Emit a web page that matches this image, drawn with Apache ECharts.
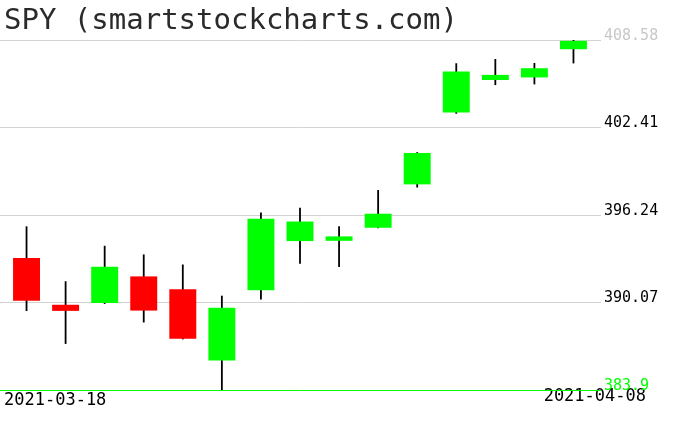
<!DOCTYPE html>
<html>
<head>
<meta charset="utf-8">
<script src="https://cdn.jsdelivr.net/npm/echarts@6/dist/echarts.min.js"></script>
<style>html,body{margin:0;padding:0;background:#fff}#c{width:676px;height:431px}</style>
</head>
<body>
<div id="c"></div>
<script>
const titleText = 'SPY (smartstockcharts.com)';
const categories = ['2021-03-18','2021-03-19','2021-03-22','2021-03-23','2021-03-24','2021-03-25','2021-03-26','2021-03-29','2021-03-30','2021-03-31','2021-04-01','2021-04-05','2021-04-06','2021-04-07','2021-04-08'];
const openVals  = [393.20, 389.91, 390.03, 391.91, 391.00, 385.98, 390.93, 394.40, 394.42, 395.34, 398.40, 403.46, 405.76, 405.94, 407.93];
const closeVals = [390.20, 389.48, 392.59, 389.50, 387.52, 389.70, 395.98, 395.78, 394.73, 396.33, 400.61, 406.36, 406.12, 406.59, 408.52];
const lowVals   = [389.47, 387.15, 389.97, 388.66, 387.47, 383.90, 390.29, 392.81, 392.57, 395.31, 398.18, 403.38, 405.40, 405.45, 406.93];
const highVals  = [395.44, 391.57, 394.07, 393.46, 392.75, 390.55, 396.41, 396.75, 395.45, 398.00, 400.67, 406.94, 407.24, 406.96, 408.58];
const yTicks = [383.9, 390.07, 396.24, 402.41, 408.58];

const yMin = yTicks[0], yMax = yTicks[yTicks.length - 1];
const yInterval = +(yTicks[1] - yTicks[0]).toFixed(2);
const fmt = v => String(+(+v).toFixed(2));
const labelColor = v => {
  const s = fmt(v);
  if (s === fmt(yMin)) return '#00ff00';
  if (s === fmt(yMax)) return '#c8c8c8';
  return '#000000';
};

const data = categories.map((c, i) => [i, openVals[i], closeVals[i], lowVals[i], highVals[i]]);

const chart = echarts.init(document.getElementById('c'), null, {renderer: 'canvas'});
chart.setOption({
  backgroundColor: '#ffffff',
  animation: false,
  grid: [
    {left: 7, width: 586, top: 40, height: 350},
    {left: 0, width: 601, top: 40, height: 350}
  ],
  xAxis: [
    {gridIndex: 0, type: 'category', data: categories, boundaryGap: true, show: false},
    {gridIndex: 1, type: 'category', data: categories, show: false}
  ],
  yAxis: [
    {gridIndex: 0, type: 'value', min: yMin, max: yMax, show: false, splitLine: {show: false}},
    {gridIndex: 1, type: 'value', position: 'right', min: yMin, max: yMax, interval: yInterval,
     axisLine: {show: false}, axisTick: {show: false},
     splitLine: {show: true, lineStyle: {color: ['#00ff00', '#d3d3d3', '#d3d3d3', '#d3d3d3', '#d3d3d3'], width: 1}},
     axisLabel: {
       margin: 3, verticalAlign: 'bottom', lineHeight: 8,
       fontFamily: 'DejaVu Sans Mono', fontSize: 15,
       formatter: v => fmt(v),
       color: (v) => labelColor(v)
     }}
  ],
  graphic: [
    {type: 'text', left: 4, top: 7, style: {text: titleText, font: '200 29px "DejaVu Sans Mono"', fill: '#2a2a2a'}},
    {type: 'text', left: 4, top: 392, style: {text: categories[0], font: '17px "DejaVu Sans Mono"', fill: '#000'}},
    {type: 'text', right: 30, top: 388, style: {text: categories[categories.length - 1], font: '17px "DejaVu Sans Mono"', fill: '#000'}}
  ],
  series: [{
    type: 'custom',
    xAxisIndex: 0, yAxisIndex: 0,
    data: data,
    encode: {x: 0, y: [1, 2, 3, 4]},
    renderItem: function (params, api) {
      const i = api.value(0);
      const o = api.value(1), c = api.value(2), lo = api.value(3), hi = api.value(4);
      const pHi = api.coord([i, hi]);
      const pLo = api.coord([i, lo]);
      const pO = api.coord([i, o]);
      const pC = api.coord([i, c]);
      const w = api.size([1, 0])[0] * 0.69;
      const x = pHi[0];
      const top = Math.min(pO[1], pC[1]);
      const h = Math.max(Math.abs(pO[1] - pC[1]), 1);
      const col = c >= o ? '#00ff00' : '#ff0000';
      return {
        type: 'group',
        children: [
          {type: 'line', shape: {x1: x, y1: pHi[1], x2: x, y2: pLo[1]}, style: {stroke: '#000', lineWidth: 1.8}},
          {type: 'rect', shape: {x: x - w / 2, y: top, width: w, height: h}, style: {fill: col}}
        ]
      };
    }
  }]
});
</script>
</body>
</html>
